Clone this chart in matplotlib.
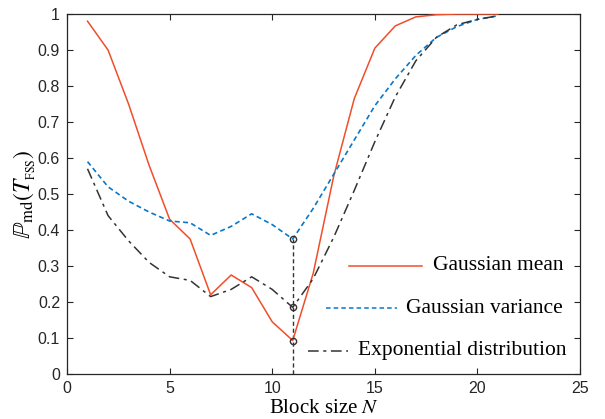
import matplotlib
matplotlib.use("Agg")
import matplotlib.pyplot as plt
from matplotlib.lines import Line2D

plt.rcParams['mathtext.fontset'] = 'stix'

N = list(range(1, 22))
gauss_mean = [0.98, 0.90, 0.75, 0.58, 0.43, 0.375, 0.22, 0.275, 0.24, 0.145, 0.093,
              0.28, 0.55, 0.765, 0.905, 0.967, 0.992, 0.998, 1.0, 1.0, 1.0]
gauss_var = [0.59, 0.52, 0.48, 0.45, 0.425, 0.42, 0.385, 0.41, 0.445, 0.415, 0.375,
             0.46, 0.555, 0.65, 0.745, 0.82, 0.885, 0.935, 0.965, 0.985, 0.995]
expo = [0.57, 0.44, 0.37, 0.31, 0.27, 0.26, 0.215, 0.235, 0.27, 0.235, 0.185,
        0.265, 0.38, 0.51, 0.645, 0.77, 0.87, 0.935, 0.97, 0.985, 0.995]
opt_N = 11
opt_vals = [gauss_var[opt_N - 1], expo[opt_N - 1], gauss_mean[opt_N - 1]]

red = '#F04E2B'
blue = '#0A78C8'
dark = '#333333'
axcol = '#262626'

fig = plt.figure(figsize=(6.05, 4.19), dpi=100)
ax = fig.add_axes([67/605, 45/419, 513/605, 360/419])

ax.plot(N, gauss_mean, color=red, lw=1.1, zorder=3)
ax.plot(N, gauss_var, color=blue, lw=1.2, ls=(0, (3, 2)), zorder=3)
ax.plot(N, expo, color=dark, lw=1.1, ls=(0, (7, 3, 2, 3)), zorder=3)

ax.plot([opt_N, opt_N], [0, max(opt_vals)], color=dark, lw=1.0, ls=(0, (3, 2)), zorder=2)
ax.plot([opt_N] * 3, opt_vals, ls='none', marker='o', ms=4.5, mfc='none',
        mec=dark, mew=1.0, zorder=4)

ax.set_xlim(0, 25)
ax.set_ylim(0, 1)
ax.set_xticks([0, 5, 10, 15, 20, 25])
ax.set_yticks([0, 0.1, 0.2, 0.3, 0.4, 0.5, 0.6, 0.7, 0.8, 0.9, 1])
ax.set_yticklabels(['0', '0.1', '0.2', '0.3', '0.4', '0.5', '0.6', '0.7', '0.8', '0.9', '1'])
ax.tick_params(direction='in', top=True, right=True, length=4, width=0.8,
               colors=axcol, labelsize=11.5, pad=5)
for lab in ax.get_xticklabels() + ax.get_yticklabels():
    lab.set_family('Liberation Sans')
for s in ax.spines.values():
    s.set_color(axcol)
    s.set_linewidth(0.9)

ax.set_xlabel(r'Block size $N$', family='Liberation Serif', fontsize=15, labelpad=2)
ax.set_ylabel(r'$\mathbb{P}_{\rm md}(T_{_{\rm FSS}})$', fontsize=17, labelpad=0)

# legend (MATLAB-style, right-aligned entries)
entries = [
    ('Gaussian mean', red, '-', 0.550, 0.692, 0.967, 0.300),
    ('Gaussian variance', blue, (0, (3, 2)), 0.505, 0.643, 0.967, 0.183),
    ('Exponential distribution', dark, (0, (7, 3, 2, 3)), 0.470, 0.548, 0.973, 0.064),
]
for label, c, ls, x0, x1, xt, yt in entries:
    ax.add_line(Line2D([x0, x1], [yt, yt], color=c, ls=ls, lw=1.1, transform=ax.transAxes))
    ax.text(xt, yt, label, transform=ax.transAxes, ha='right', va='center',
            family='Liberation Serif', fontsize=15.5, color='black')

fig.savefig('out.png', dpi=100)
